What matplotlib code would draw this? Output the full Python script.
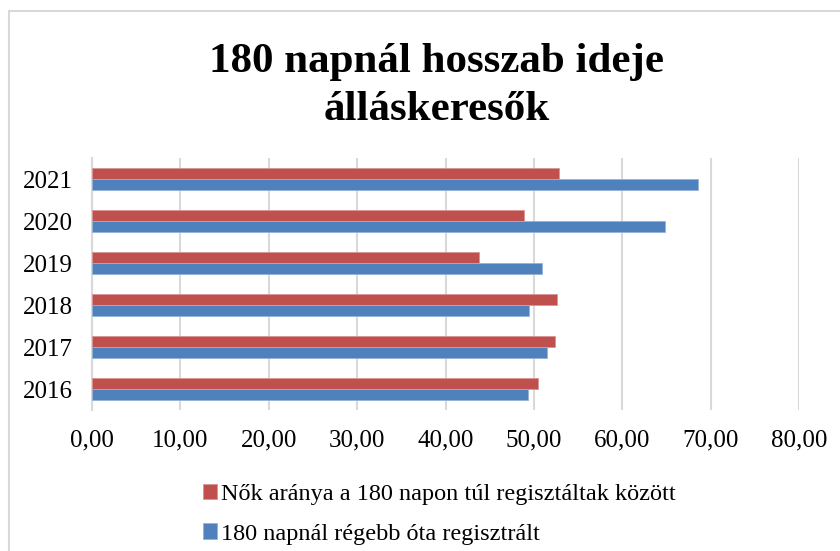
import matplotlib
matplotlib.use('Agg')
import matplotlib.pyplot as plt
from matplotlib.patches import Rectangle
import numpy as np

years = ['2016', '2017', '2018', '2019', '2020', '2021']
nok_aranya = [50.5, 52.4, 52.6, 43.8, 48.9, 52.8]
regebb_ota = [49.3, 51.5, 49.4, 50.9, 64.8, 68.6]
x_ticks = [0, 10, 20, 30, 40, 50, 60, 70, 80]
title_lines = ['180 napnál hosszab ideje', 'álláskeresők']

red = '#C0504D'
blue = '#4F81BD'
grid_col = '#D9D9D9'

plt.rcParams['font.family'] = ['Liberation Serif', 'DejaVu Serif']

fig = plt.figure(figsize=(8.4, 5.51), dpi=100)
W, H = 840, 551

# outer chart border (cropped at right and bottom)
fig.patches.append(Rectangle((9 / W, -0.1), 1.2, (H - 11) / H + 0.1, transform=fig.transFigure,
                             fill=False, edgecolor=grid_col, linewidth=1.5))

ax = fig.add_axes([92 / W, (H - 410) / H, (799 - 92) / W, (410 - 158) / H])

y = np.arange(len(years))
h = 0.26
ax.barh(y + h / 2, nok_aranya, height=h, color=red, edgecolor='#D99694', linewidth=0.6,
        label='Nők aránya a 180 napon túl regisztáltak között', zorder=3)
ax.barh(y - h / 2, regebb_ota, height=h, color=blue, edgecolor='#95B3D7', linewidth=0.6,
        label='180 napnál régebb óta regisztrált', zorder=3)

ax.set_xlim(0, 80)
ax.set_ylim(-0.5, len(years) - 0.5)
ax.set_xticks(x_ticks)
ax.set_xticklabels([f'{v:.2f}'.replace('.', ',') for v in x_ticks], fontsize=18)
ax.set_yticks(y)
ax.set_yticklabels(years, fontsize=18)
ax.tick_params(axis='x', length=0, pad=14)
ax.tick_params(axis='y', length=0, pad=14)
ax.grid(axis='x', color=grid_col, linewidth=1.5, zorder=0)
for s in ['top', 'right', 'bottom']:
    ax.spines[s].set_visible(False)
ax.spines['left'].set_color(grid_col)
ax.spines['left'].set_linewidth(1.5)

# title, one text per line
for line, base in zip(title_lines, [72, 120]):
    fig.text(0.52, (H - base) / H, line, ha='center', va='baseline',
             fontsize=31, fontweight='bold')

handles, labels = ax.get_legend_handles_labels()
fig.legend(handles, labels, loc='upper left', bbox_to_anchor=(193 / W, (H - 474) / H),
           frameon=False, fontsize=17.5, handlelength=0.6, handleheight=0.6, handletextpad=0.15,
           labelspacing=0.75, borderaxespad=0)

fig.savefig('out.png', dpi=100)
